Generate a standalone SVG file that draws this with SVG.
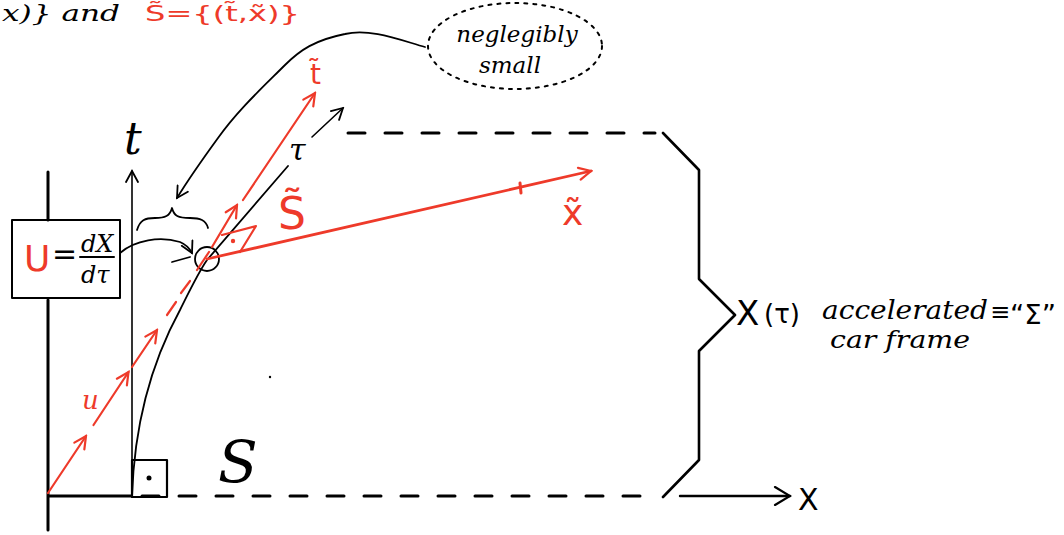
<svg xmlns="http://www.w3.org/2000/svg" width="1064" height="535" viewBox="0 0 1064 535">
<style>
.k{stroke:#000;fill:none;stroke-linecap:round;stroke-linejoin:round}
.r{stroke:#ee3a2a;fill:none;stroke-linecap:round;stroke-linejoin:round}
.hw{font-family:"DejaVu Serif","Liberation Serif",serif;font-style:italic}
.sn{font-family:"DejaVu Sans","Liberation Sans",sans-serif}
.red{fill:#ee3a2a}
.blk{fill:#000}
</style>
<defs>
<marker id="ak" viewBox="-12 -7 14 14" markerWidth="14" markerHeight="14" markerUnits="userSpaceOnUse" orient="auto" refX="0" refY="0">
<path d="M-11,-6 L0,0 L-11,6" fill="none" stroke="#000" stroke-width="1.8" stroke-linecap="round"/>
</marker>
<marker id="ar" viewBox="-14 -8 16 16" markerWidth="16" markerHeight="16" markerUnits="userSpaceOnUse" orient="auto" refX="0" refY="0">
<path d="M-12,-6 L0,0 L-12,6" fill="none" stroke="#ee3a2a" stroke-width="2.2" stroke-linecap="round"/>
</marker>
<marker id="akb" viewBox="-18 -10 20 20" markerWidth="20" markerHeight="20" markerUnits="userSpaceOnUse" orient="auto" refX="0" refY="0">
<path d="M-15,-9 L0,0 L-15,9" fill="none" stroke="#000" stroke-width="2.2" stroke-linecap="round"/>
</marker>
</defs>

<g id="header">
<text x="2" y="21" class="hw blk" font-size="22" textLength="118" lengthAdjust="spacingAndGlyphs">x)} and</text>
<text x="145" y="21" class="sn red" font-size="22" textLength="155" lengthAdjust="spacingAndGlyphs">S̃={(t̃,x̃)}</text>
</g>

<g id="frame-S">
<path class="k" stroke-width="3" d="M48,172 L48,220 M48,300 L48,530 M48,496 L131,496"/>
<path class="k" stroke-width="1.6" d="M132,496 L132,171" marker-end="url(#ak)"/>
<text x="124" y="154" class="hw blk" font-size="44">t</text>
<rect x="132" y="460" width="35" height="37" class="k" stroke-width="2.2"/>
<circle cx="149" cy="478" r="2.5" fill="#000"/>
<path class="k" stroke-width="3" stroke-dasharray="17 20" d="M142,496 L655,496"/>
<path class="k" stroke-width="2.4" d="M680,496 L790,496" marker-end="url(#akb)"/>
<text x="798" y="510" class="sn blk" font-size="30">X</text>
<text x="218" y="482" class="hw blk" font-size="58">S</text>
<circle cx="270" cy="377" r="1.2" fill="#000"/>
</g>

<g id="worldline">
<path class="k" stroke-width="1.8" d="M132,497 C134,430 150,365 180,310 C190,290 198,273 207,260 L288,166"/>
<circle cx="207" cy="259" r="12" class="k" stroke-width="1.8"/>
<path class="k" stroke-width="1.6" d="M312,137 L343,108" marker-end="url(#ak)"/>
<text x="289" y="160" class="hw blk" font-size="30">τ</text>
</g>

<g id="frame-S-tilde">
<g class="r" stroke-width="2.2">
<path d="M48,493 L86,436" marker-end="url(#ar)"/>
<path d="M93.5,425 L128.5,372" marker-end="url(#ar)"/>
<path d="M132,367 L157,330" marker-end="url(#ar)"/>
<path d="M167,315 L176,302"/>
<path d="M181,293 L190,281"/>
<path d="M197,270 L209,252"/>
<path d="M212,247 L237,205" marker-end="url(#ar)"/>
<path d="M243,200 L315,93" marker-end="url(#ar)"/>
<path d="M207,259 L591,171" stroke-width="2.8" marker-end="url(#ar)"/>
<path d="M520,183 L521,193" stroke-width="3"/>
<path d="M222,235 L256,226 L240,252" stroke-width="2.2"/>
</g>
<circle cx="233" cy="241" r="2.2" class="red"/>
<text x="310" y="84" class="sn red" font-size="28">t̃</text>
<text x="278" y="229" class="sn red" font-size="44">S̃</text>
<text x="562" y="225" class="sn red" font-size="36">x̃</text>
<text x="82" y="409" class="hw red" font-size="26">u</text>
</g>

<g id="velocity-box">
<rect x="12" y="220" width="108" height="78" class="k" stroke-width="2"/>
<text x="24" y="271" class="sn red" font-size="36">U</text>
<text x="52" y="264" class="sn blk" font-size="30">=</text>
<text x="81" y="252" class="hw blk" font-size="24">dX</text>
<path class="k" stroke-width="2" d="M80,257 L114,257"/>
<text x="81" y="283" class="hw blk" font-size="24">dτ</text>
</g>

<g id="bubble">
<ellipse cx="515" cy="46" rx="87" ry="43" fill="none" stroke="#000" stroke-width="2" stroke-dasharray="3 6" stroke-linecap="round"/>
<text x="517" y="42" class="hw blk" font-size="23" text-anchor="middle">neglegibly</text>
<text x="510" y="73" class="hw blk" font-size="23" text-anchor="middle">small</text>
</g>

<g id="brace-top">
<path class="k" stroke-width="1.8" d="M137,230 C140,220 145,218 155,218 C165,218 170,216 172,208 C174,216 178,218 190,218 C200,218 206,220 208,228"/>
</g>

<g id="brace-frame">
<path class="k" stroke-width="3" stroke-dasharray="17 20" d="M348,133 L655,133"/>
<path class="k" stroke-width="2.6" d="M663,133 L699,170 L699,279 L735,315 L699,351 L699,460 L663,497"/>
<text x="736" y="325" class="sn blk" font-size="34">X</text>
<text x="764" y="323" class="sn blk" font-size="26">(τ)</text>
<text x="822" y="319" class="hw blk" font-size="26" textLength="166" lengthAdjust="spacingAndGlyphs">accelerated</text>
<text x="990" y="320" class="sn blk" font-size="24">≡</text>
<text x="1010" y="324" class="sn blk" font-size="26" textLength="46" lengthAdjust="spacingAndGlyphs">“Σ”</text>
<text x="830" y="348" class="hw blk" font-size="24" textLength="140" lengthAdjust="spacingAndGlyphs">car frame</text>
</g>

<g id="connectors">
<path class="k" stroke-width="1.8" d="M425,47 C400,40 370,28 345,34 C315,40 300,50 285,65 C262,88 238,110 218,138 C202,160 188,180 177,198" marker-end="url(#ak)"/>
<path class="k" stroke-width="1.8" d="M120,253 C135,240 160,236 180,242 C187,245 190,249 192,253" marker-end="url(#ak)"/>
<path class="k" stroke-width="1.8" d="M172,262 L190,257"/>
</g>
</svg>
